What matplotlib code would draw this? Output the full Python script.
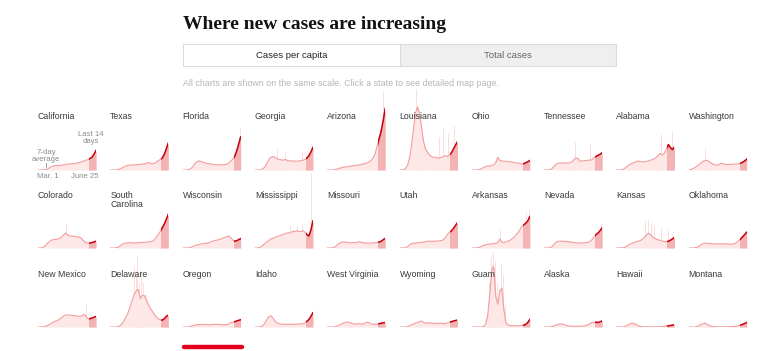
import matplotlib
matplotlib.use("Agg")
import matplotlib.pyplot as plt
from matplotlib.patches import Rectangle
from matplotlib.lines import Line2D
from matplotlib import font_manager as fm

# ---------------- data ----------------
# 7-day average of new cases per 100k people, sampled every 4 days from Mar. 1 (day 0) to June 25 (day 116)
sample_days = list(range(0, 117, 4))
last14_start = 102
last_day = 116

california = [0, 0, 0, 0.1, 0.3, 0.8, 1.6, 2.4, 2.8, 3.0, 3.0, 3.0, 3.2, 3.5, 3.7, 4.0, 4.0, 4.2, 4.2, 4.5, 4.8, 5.0, 5.5, 6.0, 6.5, 7.0, 7.7, 8.5, 10.5, 13.0]
texas = [0, 0, 0, 0.1, 0.3, 0.8, 1.5, 2.2, 2.8, 3.2, 3.3, 3.3, 3.4, 3.5, 3.6, 3.8, 4.0, 4.1, 4.3, 5.0, 4.5, 4.0, 4.5, 5.2, 6.2, 7.0, 8.0, 10.5, 14.0, 18.0]
florida = [0, 0, 0, 0.2, 0.8, 2.0, 4.0, 5.5, 6.0, 5.8, 5.2, 4.8, 4.5, 4.2, 4.0, 3.8, 3.5, 3.5, 3.5, 3.4, 3.5, 3.6, 3.8, 4.5, 6.0, 7.0, 9.0, 12.5, 17.0, 22.0]
georgia = [0, 0, 0, 0.2, 0.8, 2.0, 4.5, 7.0, 8.5, 9.0, 8.5, 7.5, 7.0, 6.8, 6.5, 7.0, 6.5, 6.2, 6.0, 6.0, 6.0, 5.8, 6.0, 6.2, 6.5, 7.0, 8.0, 9.5, 12.0, 15.0]
arizona = [0, 0, 0, 0.1, 0.3, 0.6, 1.0, 1.5, 1.8, 2.0, 2.2, 2.4, 2.6, 2.8, 3.0, 3.2, 3.4, 3.7, 4.0, 4.3, 4.8, 5.5, 6.5, 8.0, 11.0, 16.0, 21.0, 26.0, 33.0, 41.0]
louisiana = [0, 0, 0.2, 1.0, 3.0, 8.0, 16.0, 27.0, 38.0, 42.0, 38.0, 29.0, 19.0, 14.0, 12.0, 10.0, 9.0, 8.5, 8.5, 8.0, 8.0, 8.5, 9.0, 9.5, 9.0, 10.0, 11.5, 14.0, 16.5, 19.0]
ohio = [0, 0, 0, 0.1, 0.4, 1.0, 1.8, 2.3, 2.6, 2.7, 3.0, 3.5, 5.0, 8.5, 6.5, 6.0, 5.8, 5.8, 5.6, 5.5, 5.3, 5.0, 4.8, 4.6, 4.3, 4.0, 4.2, 4.8, 5.5, 6.3]
tennessee = [0, 0, 0, 0.2, 1.0, 2.5, 3.8, 4.5, 4.6, 4.6, 4.6, 4.7, 4.7, 4.8, 5.5, 7.0, 8.0, 7.5, 5.8, 6.0, 6.2, 6.3, 6.5, 6.5, 7.0, 8.5, 9.0, 9.8, 10.5, 11.5]
alabama = [0, 0, 0, 0.3, 1.0, 2.0, 3.0, 4.0, 4.5, 5.0, 5.5, 6.0, 5.5, 5.5, 5.5, 5.8, 6.0, 6.5, 7.0, 7.5, 8.5, 10.0, 11.0, 10.0, 11.0, 14.0, 17.0, 15.0, 13.5, 15.5]
washington = [0, 0.3, 0.8, 1.5, 2.5, 3.5, 4.5, 5.5, 6.3, 6.5, 5.8, 4.8, 4.0, 3.5, 3.3, 3.5, 4.5, 4.2, 3.8, 3.6, 3.6, 3.8, 3.9, 4.0, 4.0, 4.2, 4.5, 5.2, 6.0, 7.2]

colorado = [0, 0, 0.2, 0.8, 2.0, 3.5, 4.5, 5.5, 5.5, 5.8, 6.0, 6.5, 7.5, 9.0, 10.0, 8.5, 8.0, 8.0, 7.8, 7.5, 7.5, 7.0, 6.0, 4.5, 3.6, 3.3, 3.3, 3.6, 4.0, 4.5]
south_carolina = [0, 0, 0, 0.2, 0.6, 1.5, 2.5, 3.0, 3.3, 3.5, 3.5, 3.4, 3.3, 3.4, 3.5, 3.6, 3.7, 3.8, 3.9, 4.0, 4.2, 4.5, 5.5, 7.0, 9.0, 11.0, 13.5, 16.0, 19.0, 22.5]
wisconsin = [0, 0, 0, 0.1, 0.4, 1.0, 1.5, 2.0, 2.2, 2.5, 3.0, 3.0, 3.2, 3.5, 4.0, 4.5, 5.0, 5.2, 5.5, 6.0, 6.5, 7.0, 7.5, 8.0, 7.0, 5.5, 4.5, 4.8, 5.5, 6.2]
mississippi = [0, 0, 0.2, 0.8, 1.8, 3.0, 4.0, 5.0, 6.0, 6.5, 7.0, 7.5, 8.0, 8.5, 9.0, 9.5, 10.0, 10.0, 10.5, 11.0, 11.0, 11.5, 11.0, 11.0, 11.5, 10.5, 9.0, 8.0, 12.0, 18.0]
missouri = [0, 0, 0, 0.2, 0.8, 2.0, 3.0, 3.8, 4.0, 4.0, 3.8, 3.5, 3.5, 3.5, 3.6, 3.8, 4.2, 3.8, 3.5, 3.3, 3.2, 3.2, 3.3, 3.4, 3.5, 3.6, 4.0, 4.5, 5.5, 6.5]
utah = [0, 0, 0, 0.2, 0.8, 2.0, 3.0, 3.2, 3.2, 3.5, 3.5, 3.8, 4.0, 4.2, 4.5, 4.5, 4.5, 4.5, 4.5, 4.6, 4.8, 5.0, 5.5, 7.0, 9.0, 10.5, 11.5, 13.0, 15.0, 17.0]
arkansas = [0, 0, 0, 0.2, 0.6, 1.2, 1.8, 2.2, 2.5, 2.5, 2.8, 3.0, 3.2, 3.5, 6.0, 4.0, 3.5, 4.0, 4.5, 5.0, 6.0, 7.0, 8.5, 10.0, 12.0, 14.5, 15.5, 16.5, 18.0, 21.0]
nevada = [0, 0, 0, 0.3, 1.0, 2.5, 3.8, 4.5, 4.6, 4.5, 4.5, 4.4, 4.3, 4.0, 3.8, 3.6, 3.5, 3.4, 3.3, 3.3, 3.4, 3.5, 3.8, 4.5, 5.5, 7.5, 9.0, 10.0, 11.5, 13.5]
kansas = [0, 0, 0, 0.1, 0.3, 1.0, 2.0, 2.7, 3.2, 3.7, 4.2, 4.5, 5.0, 5.8, 7.0, 8.5, 9.8, 9.0, 7.5, 6.5, 6.0, 5.5, 5.0, 4.6, 4.3, 4.2, 4.5, 5.2, 6.0, 7.1]
oklahoma = [0, 0, 0, 0.1, 0.4, 1.0, 2.0, 2.8, 3.3, 3.2, 3.0, 2.9, 2.8, 2.8, 2.7, 2.7, 2.8, 2.8, 2.8, 2.7, 2.6, 2.5, 2.6, 2.9, 3.8, 5.0, 6.0, 7.5, 9.0, 10.5]

new_mexico = [0, 0, 0, 0.2, 0.6, 1.2, 2.0, 2.8, 3.5, 4.0, 4.5, 5.5, 6.5, 7.5, 8.0, 8.0, 8.0, 7.8, 7.5, 7.5, 7.2, 7.0, 7.5, 8.5, 7.0, 5.5, 5.5, 6.0, 6.5, 7.0]
delaware = [0, 0, 0, 0, 0.3, 1.0, 2.5, 4.5, 7.0, 10.0, 14.0, 18.0, 22.0, 24.0, 25.0, 19.0, 21.0, 21.0, 18.0, 15.0, 12.5, 10.5, 8.5, 6.5, 5.5, 4.8, 4.5, 5.5, 7.0, 8.0]
oregon = [0, 0, 0, 0.1, 0.4, 0.8, 1.2, 1.5, 1.6, 1.7, 1.7, 1.6, 1.6, 1.5, 1.6, 1.7, 1.8, 1.8, 1.7, 1.6, 1.5, 1.5, 1.6, 2.0, 2.8, 3.2, 3.5, 4.0, 4.4, 4.8]
idaho = [0, 0, 0, 0.3, 1.0, 2.5, 5.0, 7.0, 7.5, 6.0, 4.0, 2.8, 2.2, 2.0, 1.8, 1.8, 1.8, 1.8, 1.8, 1.8, 1.8, 1.9, 2.0, 2.0, 2.2, 2.8, 3.8, 5.0, 7.0, 9.5]
west_virginia = [0, 0, 0, 0, 0.2, 0.6, 1.2, 2.0, 2.5, 3.0, 3.3, 3.0, 2.5, 2.2, 2.0, 2.0, 2.2, 2.0, 2.0, 2.5, 3.3, 2.8, 2.0, 1.8, 1.8, 2.0, 2.2, 2.5, 2.8, 3.0]
wyoming = [0, 0, 0, 0, 0.3, 0.8, 1.5, 2.0, 2.5, 3.0, 3.5, 4.0, 3.2, 2.5, 2.5, 2.8, 2.6, 2.4, 2.5, 2.3, 2.4, 2.5, 2.2, 2.3, 2.8, 3.2, 3.5, 4.0, 4.3, 4.7]
guam = [0, 0, 0, 0, 0, 0, 0.5, 2.0, 8.0, 22.0, 38.0, 40.0, 20.0, 15.0, 24.0, 26.0, 12.0, 3.0, 1.5, 1.0, 1.0, 0.8, 0.8, 0.8, 1.0, 1.0, 1.2, 1.8, 3.0, 5.0]
alaska = [0, 0, 0, 0, 0.3, 0.8, 1.2, 1.8, 2.0, 2.0, 1.6, 1.2, 0.8, 0.6, 0.5, 0.5, 0.5, 0.5, 0.6, 0.6, 0.7, 1.0, 1.5, 2.5, 3.0, 3.0, 3.2, 3.0, 3.5, 4.0]
hawaii = [0, 0, 0, 0, 0.2, 0.8, 1.5, 2.2, 2.5, 2.2, 1.5, 0.8, 0.4, 0.2, 0.1, 0.1, 0.1, 0.1, 0.1, 0.1, 0.1, 0.2, 0.2, 0.3, 0.4, 0.6, 0.8, 1.0, 1.2, 1.5]
montana = [0, 0, 0, 0, 0.2, 0.8, 1.5, 2.2, 2.5, 2.0, 1.2, 0.6, 0.3, 0.2, 0.1, 0.1, 0.1, 0.1, 0.1, 0.2, 0.2, 0.3, 0.3, 0.4, 0.6, 0.9, 1.3, 1.8, 2.3, 3.0]

# single-day spikes (day since Mar. 1, new cases per 100k that day)
florida_spike_days, florida_spike_vals = [115], [28]
georgia_spike_days, georgia_spike_vals = [45, 60, 95], [14, 12, 12]
arizona_spike_days, arizona_spike_vals = [111], [53]
louisiana_spike_days, louisiana_spike_vals = [33, 40, 44, 80, 87, 97, 110], [54, 30, 20, 22, 28, 25, 30]
tennessee_spike_days, tennessee_spike_vals = [62, 91], [19, 18]
alabama_spike_days, alabama_spike_vals = [90, 112], [24, 26]
washington_spike_days, washington_spike_vals = [33], [15]
colorado_spike_days, colorado_spike_vals = [55], [17]
mississippi_spike_days, mississippi_spike_vals = [70, 85, 95, 113], [15, 15, 16, 50]
arkansas_spike_days, arkansas_spike_vals = [56, 108, 114], [12, 24, 26]
nevada_spike_days, nevada_spike_vals = [114], [17]
kansas_spike_days, kansas_spike_vals = [58, 64, 70, 75, 90, 104], [18, 19, 17, 15, 14, 12]
new_mexico_spike_days, new_mexico_spike_vals = [96], [16]
delaware_spike_days, delaware_spike_vals = [48, 52, 54, 58, 62, 66, 72], [40, 35, 48, 30, 38, 30, 22]
guam_spike_days, guam_spike_vals = [30, 34, 38, 40, 42, 46, 50, 54, 58, 62, 66], [10, 30, 48, 42, 50, 44, 30, 25, 42, 35, 15]

row1_names = ["California", "Texas", "Florida", "Georgia", "Arizona", "Louisiana", "Ohio", "Tennessee", "Alabama", "Washington"]
row2_names = ["Colorado", "South\nCarolina", "Wisconsin", "Mississippi", "Missouri", "Utah", "Arkansas", "Nevada", "Kansas", "Oklahoma"]
row3_names = ["New Mexico", "Delaware", "Oregon", "Idaho", "West Virginia", "Wyoming", "Guam", "Alaska", "Hawaii", "Montana"]

row1_series = [california, texas, florida, georgia, arizona, louisiana, ohio, tennessee, alabama, washington]
row2_series = [colorado, south_carolina, wisconsin, mississippi, missouri, utah, arkansas, nevada, kansas, oklahoma]
row3_series = [new_mexico, delaware, oregon, idaho, west_virginia, wyoming, guam, alaska, hawaii, montana]

spikes = {
    "Florida": (florida_spike_days, florida_spike_vals),
    "Georgia": (georgia_spike_days, georgia_spike_vals),
    "Arizona": (arizona_spike_days, arizona_spike_vals),
    "Louisiana": (louisiana_spike_days, louisiana_spike_vals),
    "Tennessee": (tennessee_spike_days, tennessee_spike_vals),
    "Alabama": (alabama_spike_days, alabama_spike_vals),
    "Washington": (washington_spike_days, washington_spike_vals),
    "Colorado": (colorado_spike_days, colorado_spike_vals),
    "Mississippi": (mississippi_spike_days, mississippi_spike_vals),
    "Arkansas": (arkansas_spike_days, arkansas_spike_vals),
    "Nevada": (nevada_spike_days, nevada_spike_vals),
    "Kansas": (kansas_spike_days, kansas_spike_vals),
    "New Mexico": (new_mexico_spike_days, new_mexico_spike_vals),
    "Delaware": (delaware_spike_days, delaware_spike_vals),
    "Guam": (guam_spike_days, guam_spike_vals),
}

title = "Where new cases are increasing"
tab_labels = ["Cases per capita", "Total cases"]
subtitle = "All charts are shown on the same scale. Click a state to see detailed map page."

# ---------------- style / layout ----------------
W, H = 778, 351
names_avail = {f.name for f in fm.fontManager.ttflist}
NARROW = "Liberation Sans Narrow" in names_avail
SANS = "Liberation Sans Narrow" if NARROW else "Liberation Sans"
SERIF = "Liberation Serif"
LBL = 7.2 if NARROW else 6.3

LIGHT_FILL = "#fde7e7"
PINK_LINE = "#f2a0a0"
DARK_FILL = "#f4b3b3"
DARK_LINE = "#c8000f"
SPIKE = "#fadcdc"

col_left0, col_step, panel_w = 38, 72.3, 58
row_base = [170, 248, 327]
row_label_top = [112, 191, 270]
panel_h = 80
px_per_unit = 1.5

fig = plt.figure(figsize=(W / 100, H / 100), dpi=100)
fig.patch.set_facecolor("white")


def fx(x):
    return x / W


def fy(y):
    return 1 - y / H


# title
fig.text(fx(183), fy(29), title, family=SERIF, weight="bold", size=14.0, color="#121212", va="baseline")

# tabs
fig.patches.append(Rectangle((fx(400), fy(66)), fx(216), 22 / H, transform=fig.transFigure,
                             facecolor="#efefef", edgecolor="#dcdcdc", lw=0.8))
fig.patches.append(Rectangle((fx(183), fy(66)), fx(217), 22 / H, transform=fig.transFigure,
                             facecolor="white", edgecolor="#dcdcdc", lw=0.8))
fig.text(fx(292), fy(55.5), tab_labels[0], family=SANS, size=7.5 if NARROW else 6.8, color="#222",
         ha="center", va="center")
fig.text(fx(508), fy(55.5), tab_labels[1], family=SANS, size=7.5 if NARROW else 6.8, color="#666",
         ha="center", va="center")
fig.text(fx(183), fy(84), subtitle, family=SANS, size=7.2 if NARROW else 6.4, color="#b5b5b5",
         ha="left", va="center")


def draw_panel(ax, vals, spk):
    ax.set_xlim(0, last_day)
    ax.set_ylim(0, panel_h / px_per_unit)
    ax.axis("off")
    ax.patch.set_alpha(0)
    if spk is not None:
        ax.vlines(spk[0], 0, spk[1], color=SPIKE, lw=0.7, clip_on=False, zorder=1)
    ax.fill_between(sample_days, 0, vals, color=LIGHT_FILL, lw=0, zorder=2)
    clip = Rectangle((last14_start, 0), last_day - last14_start, 1000, transform=ax.transData)
    dark = ax.fill_between(sample_days, 0, vals, color=DARK_FILL, lw=0, zorder=3)
    dark.set_clip_path(clip)
    ax.plot(sample_days, vals, color=PINK_LINE, lw=0.85, zorder=4, solid_joinstyle="round")
    ln, = ax.plot(sample_days, vals, color=DARK_LINE, lw=1.1, zorder=5, solid_joinstyle="round")
    ln.set_clip_path(clip)


rows = [(row1_names, row1_series), (row2_names, row2_series), (row3_names, row3_series)]
for r, (names, series) in enumerate(rows):
    for c, (name, vals) in enumerate(zip(names, series)):
        left = col_left0 + c * col_step
        ax = fig.add_axes([fx(left), fy(row_base[r]), panel_w / W, panel_h / H])
        draw_panel(ax, vals, spikes.get(name.replace("\n", " ")))
        fig.text(fx(left), fy(row_label_top[r]), name, family=SANS, size=LBL, color="#3a3a3a",
                 ha="left", va="top", linespacing=1.0)

# California annotations
ann = dict(family=SANS, size=6.3 if NARROW else 5.6, color="#8a8a8a", ha="center", va="center", linespacing=1.0)
fig.text(fx(46), fy(156), "7-day\naverage", **ann)
fig.text(fx(91), fy(138), "Last 14\ndays", **ann)
fig.text(fx(48), fy(177), "Mar. 1", **ann)
fig.text(fx(85), fy(177), "June 25", **ann)
fig.lines.append(Line2D([fx(46), fx(46)], [fy(162.5), fy(166.5)], transform=fig.transFigure,
                        color="#8a8a8a", lw=0.6))

# active-tab underline
fig.lines.append(Line2D([fx(184), fx(242)], [fy(347), fy(347)], transform=fig.transFigure,
                        color="#e3001b", lw=3.2, solid_capstyle="round"))

fig.savefig("out.png", dpi=100, facecolor="white")
